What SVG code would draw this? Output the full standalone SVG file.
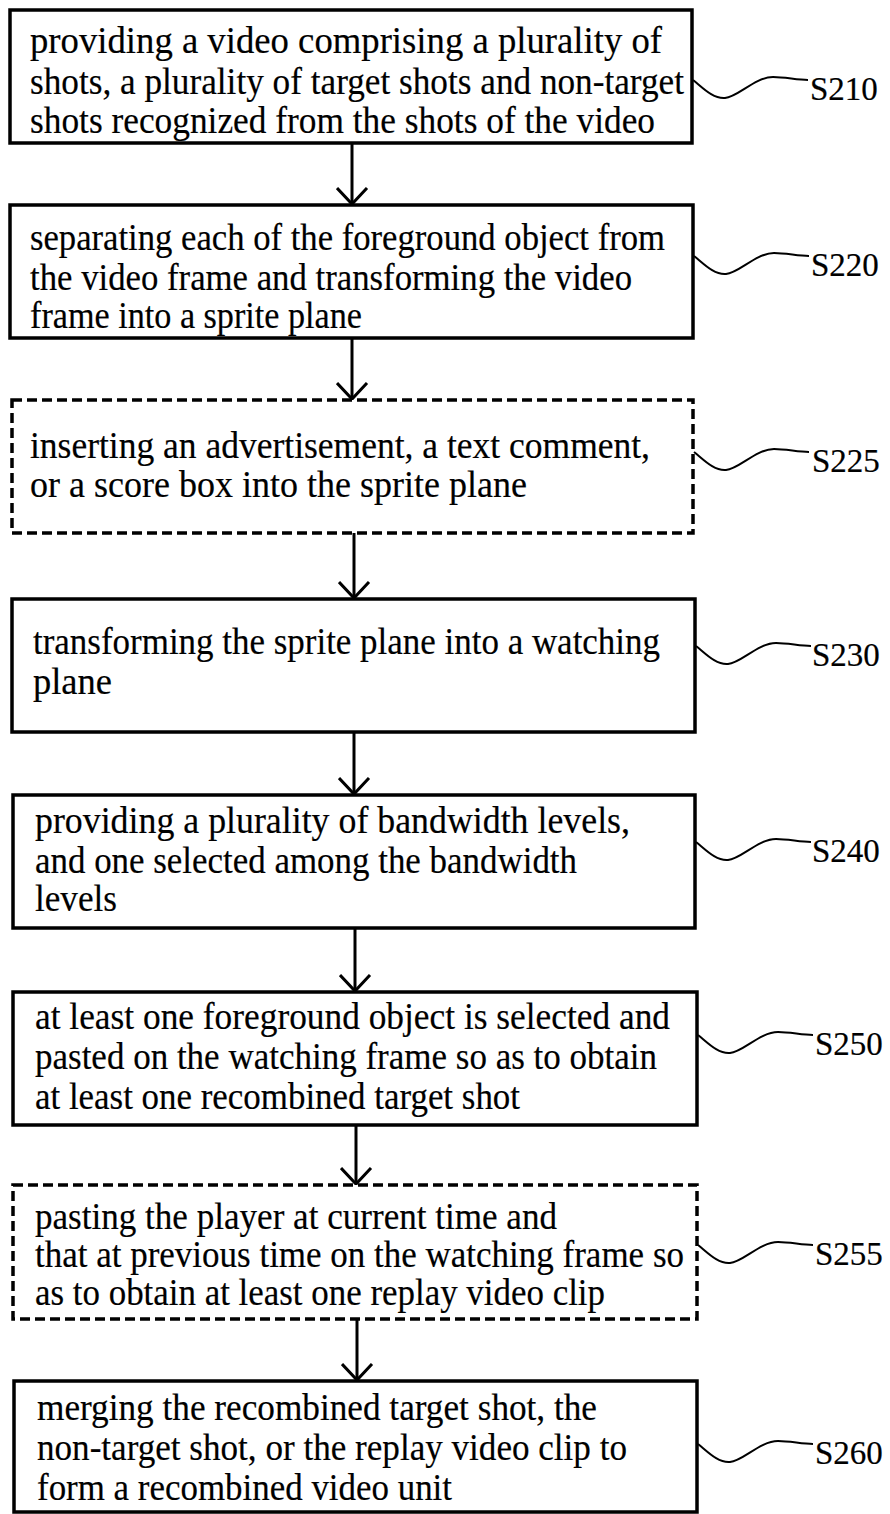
<svg xmlns="http://www.w3.org/2000/svg" width="890" height="1514" viewBox="0 0 890 1514">
<style>
.box{fill:#fff;stroke:#000;stroke-width:3.5}
.dash{fill:#fff;stroke:#000;stroke-width:3.5;stroke-dasharray:10 5}
.t{font-family:"Liberation Serif","Times New Roman",serif;font-size:38px;fill:#000;stroke:#000;stroke-width:0.2}
.lbl{font-family:"Liberation Serif","Times New Roman",serif;font-size:33px;fill:#000;stroke:#000;stroke-width:0.2}
.conn{stroke:#000;stroke-width:3;fill:none}
.sq{stroke:#000;stroke-width:2;fill:none}
</style>
<defs>
<marker id="ah" markerUnits="userSpaceOnUse" markerWidth="34" markerHeight="20" refX="16" refY="17" orient="0" viewBox="0 0 34 20">
<polyline points="1,1 16,17 31,1" fill="none" stroke="#000" stroke-width="3"/>
</marker>
<path id="sq" d="M0,0 C10,8 20,19 32,18 C45,17 62,-3 80,-3 C92,-3 104,0 115,0"/>
</defs>
<rect width="890" height="1514" fill="#fff"/>
<g id="connectors">
<line class="conn" x1="352" y1="143" x2="352" y2="204" marker-end="url(#ah)"/>
<line class="conn" x1="352" y1="338" x2="352" y2="399" marker-end="url(#ah)"/>
<line class="conn" x1="354" y1="533" x2="354" y2="598" marker-end="url(#ah)"/>
<line class="conn" x1="354" y1="732" x2="354" y2="794" marker-end="url(#ah)"/>
<line class="conn" x1="355" y1="928" x2="355" y2="991" marker-end="url(#ah)"/>
<line class="conn" x1="356" y1="1125" x2="356" y2="1184" marker-end="url(#ah)"/>
<line class="conn" x1="357" y1="1319" x2="357" y2="1380" marker-end="url(#ah)"/>
<use href="#sq" class="sq" transform="translate(693,80)"/>
<use href="#sq" class="sq" transform="translate(694,256)"/>
<use href="#sq" class="sq" transform="translate(694,452)"/>
<use href="#sq" class="sq" transform="translate(696,646)"/>
<use href="#sq" class="sq" transform="translate(696,842)"/>
<use href="#sq" class="sq" transform="translate(698,1035)"/>
<use href="#sq" class="sq" transform="translate(698,1245)"/>
<use href="#sq" class="sq" transform="translate(698,1444)"/>
</g>
<g id="S210">
<rect class="box" x="10" y="10" width="682" height="133"/>
<text class="t" x="30" y="53" textLength="632" lengthAdjust="spacingAndGlyphs">providing a video comprising a plurality of</text>
<text class="t" x="30" y="94" textLength="654" lengthAdjust="spacingAndGlyphs">shots, a plurality of target shots and non-target</text>
<text class="t" x="30" y="133" textLength="625" lengthAdjust="spacingAndGlyphs">shots recognized from the shots of the video</text>
<text class="lbl" x="810" y="100">S210</text>
</g>
<g id="S220">
<rect class="box" x="10" y="205" width="683" height="133"/>
<text class="t" x="30" y="250" textLength="635" lengthAdjust="spacingAndGlyphs">separating each of the foreground object from</text>
<text class="t" x="30" y="290" textLength="602" lengthAdjust="spacingAndGlyphs">the video frame and transforming the video</text>
<text class="t" x="30" y="328" textLength="332" lengthAdjust="spacingAndGlyphs">frame into a sprite plane</text>
<text class="lbl" x="811" y="276">S220</text>
</g>
<g id="S225">
<rect class="dash" x="12" y="400" width="681" height="133"/>
<text class="t" x="30" y="458" textLength="620" lengthAdjust="spacingAndGlyphs">inserting an advertisement, a text comment,</text>
<text class="t" x="30" y="497" textLength="497" lengthAdjust="spacingAndGlyphs">or a score box into the sprite plane</text>
<text class="lbl" x="812" y="472">S225</text>
</g>
<g id="S230">
<rect class="box" x="12" y="599" width="683" height="133"/>
<text class="t" x="33" y="654" textLength="627" lengthAdjust="spacingAndGlyphs">transforming the sprite plane into a watching</text>
<text class="t" x="33" y="694" textLength="79" lengthAdjust="spacingAndGlyphs">plane</text>
<text class="lbl" x="812" y="666">S230</text>
</g>
<g id="S240">
<rect class="box" x="13" y="795" width="682" height="133"/>
<text class="t" x="35" y="833" textLength="595" lengthAdjust="spacingAndGlyphs">providing a plurality of bandwidth levels,</text>
<text class="t" x="35" y="873" textLength="542" lengthAdjust="spacingAndGlyphs">and one selected among the bandwidth</text>
<text class="t" x="35" y="911" textLength="82" lengthAdjust="spacingAndGlyphs">levels</text>
<text class="lbl" x="812" y="862">S240</text>
</g>
<g id="S250">
<rect class="box" x="13" y="992" width="684" height="133"/>
<text class="t" x="35" y="1029" textLength="635" lengthAdjust="spacingAndGlyphs">at least one foreground object is selected and</text>
<text class="t" x="35" y="1069" textLength="622" lengthAdjust="spacingAndGlyphs">pasted on the watching frame so as to obtain</text>
<text class="t" x="35" y="1109" textLength="485" lengthAdjust="spacingAndGlyphs">at least one recombined target shot</text>
<text class="lbl" x="815" y="1055">S250</text>
</g>
<g id="S255">
<rect class="dash" x="13" y="1185" width="684" height="134"/>
<text class="t" x="35" y="1229" textLength="522" lengthAdjust="spacingAndGlyphs">pasting the player at current time and</text>
<text class="t" x="35" y="1267" textLength="649" lengthAdjust="spacingAndGlyphs">that at previous time on the watching frame so</text>
<text class="t" x="35" y="1305" textLength="570" lengthAdjust="spacingAndGlyphs">as to obtain at least one replay video clip</text>
<text class="lbl" x="815" y="1265">S255</text>
</g>
<g id="S260">
<rect class="box" x="14" y="1381" width="683" height="131"/>
<text class="t" x="37" y="1420" textLength="560" lengthAdjust="spacingAndGlyphs">merging the recombined target shot, the</text>
<text class="t" x="37" y="1460" textLength="590" lengthAdjust="spacingAndGlyphs">non-target shot, or the replay video clip to</text>
<text class="t" x="37" y="1500" textLength="415" lengthAdjust="spacingAndGlyphs">form a recombined video unit</text>
<text class="lbl" x="815" y="1464">S260</text>
</g>
</svg>
